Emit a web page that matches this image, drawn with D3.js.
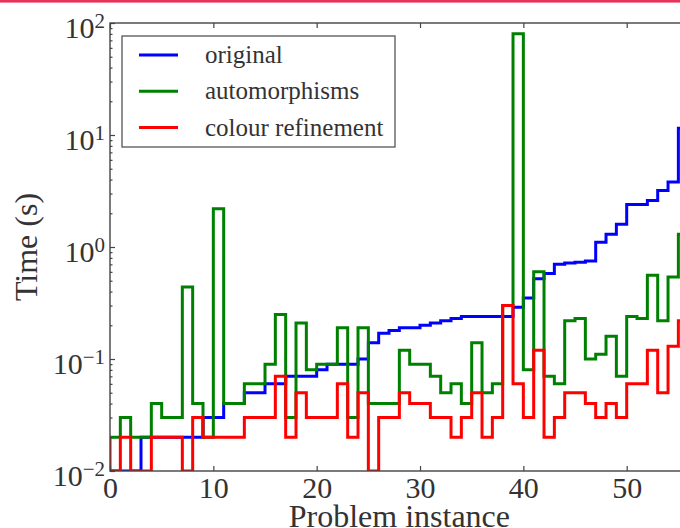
<!DOCTYPE html>
<html><head><meta charset="utf-8">
<script src="https://cdn.jsdelivr.net/npm/d3@7"></script>
<style>body{margin:0;background:#fff}svg{display:block}</style>
</head><body>
<svg id="c" width="680" height="528"></svg>
<script>
// ---- data (seconds per problem instance) ----
const seriesNames = ["original", "automorphisms", "colour refinement"];
const seriesColors = ["#0000ff", "#008000", "#ff0000"];
const startTimes = [0.01, 0.02, 0.02];   // step start level at x = 0
const original = [
  0.01,0.01,0.01,0.02,0.02,0.02,0.02,0.02,0.02,0.03,
  0.03,0.04,0.04,0.05,0.05,0.06,0.06,0.07,0.07,0.07,
  0.08,0.09,0.09,0.09,0.10,0.14,0.17,0.18,0.19,0.19,
  0.20,0.21,0.22,0.23,0.24,0.24,0.24,0.24,0.24,0.29,
  0.35,0.52,0.58,0.70,0.72,0.73,0.75,1.1,1.3,1.6,
  2.4,2.4,2.6,3.2,3.8,11.5];
const automorphisms = [
  0.02,0.03,0.02,0.02,0.04,0.03,0.03,0.44,0.04,0.02,
  2.2,0.04,0.04,0.06,0.06,0.09,0.25,0.03,0.21,0.08,
  0.09,0.09,0.19,0.03,0.19,0.04,0.04,0.04,0.12,0.09,
  0.09,0.07,0.05,0.06,0.04,0.14,0.05,0.06,0.30,80,
  0.08,0.60,0.07,0.06,0.22,0.23,0.10,0.11,0.16,0.07,
  0.24,0.23,0.56,0.22,0.54,1.3];
const colourRefinement = [
  0.01,0.02,0.01,0.01,0.02,0.02,0.02,0.01,0.03,0.02,
  0.02,0.02,0.02,0.03,0.03,0.03,0.07,0.02,0.05,0.03,
  0.03,0.03,0.06,0.02,0.05,0.01,0.03,0.03,0.05,0.04,
  0.04,0.03,0.03,0.02,0.03,0.05,0.02,0.03,0.30,0.06,
  0.03,0.12,0.02,0.03,0.05,0.05,0.04,0.03,0.04,0.03,
  0.06,0.06,0.12,0.05,0.13,0.22];
const xTicks = [0, 10, 20, 30, 40, 50];
const yTickExps = [-2, -1, 0, 1, 2];
const xDomain = [0, 56];
const yDomain = [0.01, 100];

// ---- layout ----
const svg = d3.select("#c");
const L = 110, R = 688.7, T = 23, B = 471;
const x = d3.scaleLinear(xDomain, [L, R]);
const y = d3.scaleLog(yDomain, [B, T]);
const serif = "'Liberation Serif', 'DejaVu Serif', serif";
const txt = "#333", axisCol = "#444";

// top decorative bar
svg.append("rect").attr("x", 0).attr("y", 0).attr("width", 680).attr("height", 2.6).attr("fill", "#e5335c");

svg.append("defs").append("clipPath").attr("id", "clip")
  .append("rect").attr("x", L).attr("y", T).attr("width", R - L).attr("height", B - T);

// step lines
const allSeries = [original, automorphisms, colourRefinement];
const line = d3.line().x(d => x(d[0])).y(d => y(d[1])).curve(d3.curveStepBefore);
const gLines = svg.append("g").attr("clip-path", "url(#clip)");
allSeries.forEach((vals, s) => {
  const pts = [[0, startTimes[s]]].concat(vals.map((v, i) => [i + 1, v]));
  gLines.append("path").attr("d", line(pts)).attr("fill", "none")
    .attr("stroke", seriesColors[s]).attr("stroke-width", 3)
    .attr("stroke-linejoin", "miter").attr("stroke-linecap", "butt");
});

// axes (ticks pointing inward)
const styleAxis = g => {
  g.select(".domain").remove();
  g.selectAll(".tick line").attr("stroke", axisCol).attr("stroke-width", 1.2);
};
svg.append("g").attr("transform", `translate(0,${B})`)
  .call(d3.axisBottom(x).tickValues(xTicks).tickSize(-5).tickPadding(12).tickFormat(d3.format("d")))
  .call(styleAxis)
  .call(g => g.selectAll(".tick text").attr("font-family", serif).attr("font-size", 30)
    .attr("fill", txt).attr("dy", null).attr("y", 27));
svg.append("g").attr("transform", `translate(0,${T})`)
  .call(d3.axisTop(x).tickValues(xTicks).tickSize(-5).tickFormat(""))
  .call(styleAxis);

const major = yTickExps.map(e => Math.pow(10, e));
const minor = y.ticks().filter(v => !major.some(m => Math.abs(m - v) / v < 1e-9));
svg.append("g").attr("transform", `translate(${L},0)`)
  .call(d3.axisLeft(y).tickValues(minor).tickSize(-2.5).tickFormat(""))
  .call(styleAxis);
svg.append("g").attr("transform", `translate(${L},0)`)
  .call(d3.axisLeft(y).tickValues(major).tickSize(-5).tickFormat(""))
  .call(styleAxis);
svg.append("g").attr("transform", `translate(${R},0)`)
  .call(d3.axisRight(y).tickValues(major).tickSize(-5).tickFormat(""))
  .call(styleAxis);

// y tick labels 10^e
yTickExps.forEach(e => {
  const t = svg.append("text").attr("x", 105).attr("y", y(Math.pow(10, e)) + 15)
    .attr("text-anchor", "end").attr("font-family", serif).attr("fill", txt);
  t.append("tspan").attr("font-size", 30).text("10");
  t.append("tspan").attr("font-size", 21).attr("dy", -10).text(e < 0 ? "\u2212" + (-e) : String(e));
});

// frame
svg.append("rect").attr("x", L).attr("y", T).attr("width", R - L).attr("height", B - T)
  .attr("fill", "none").attr("stroke", axisCol).attr("stroke-width", 1.4);

// axis labels
svg.append("text").attr("x", (L + R) / 2).attr("y", 527).attr("text-anchor", "middle")
  .attr("font-family", serif).attr("font-size", 32).attr("fill", txt).text("Problem instance");
svg.append("text").attr("transform", `translate(37,${(T + B) / 2}) rotate(-90)`)
  .attr("text-anchor", "middle").attr("font-family", serif).attr("font-size", 32)
  .attr("fill", txt).text("Time (s)");

// legend
const lg = svg.append("g");
lg.append("rect").attr("x", 122).attr("y", 36).attr("width", 273).attr("height", 111)
  .attr("fill", "#fff").attr("stroke", "#555").attr("stroke-width", 1.3);
seriesNames.forEach((n, i) => {
  const yy = 55 + i * 36.3;
  lg.append("line").attr("x1", 139).attr("x2", 178).attr("y1", yy).attr("y2", yy)
    .attr("stroke", seriesColors[i]).attr("stroke-width", 3);
  lg.append("text").attr("x", 205).attr("y", yy + 8).attr("font-family", serif)
    .attr("font-size", 25).attr("fill", txt).text(n);
});
</script>
</body></html>
